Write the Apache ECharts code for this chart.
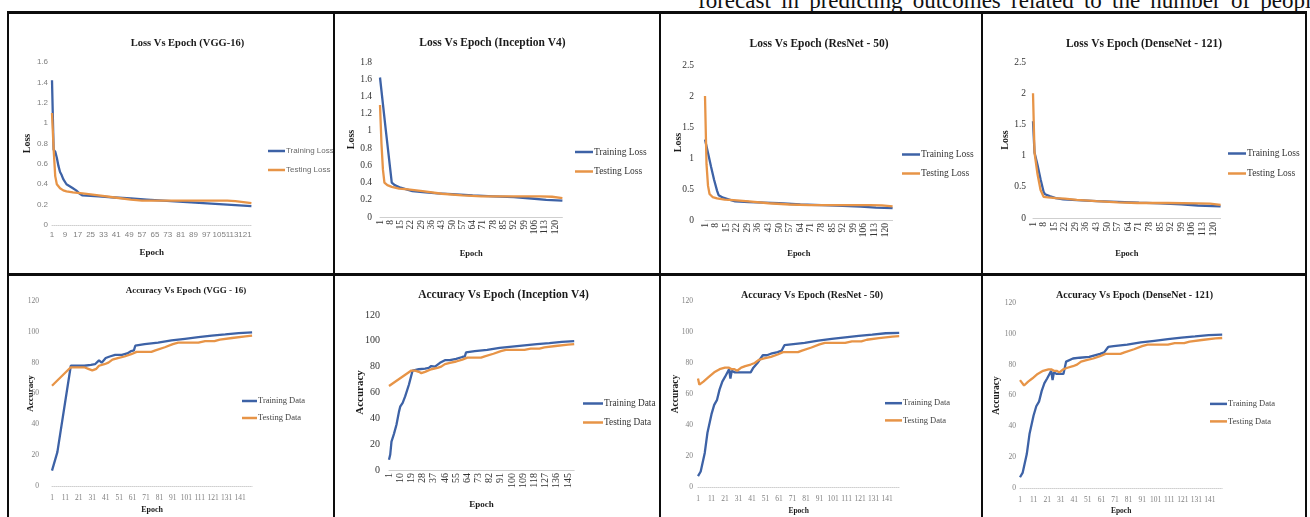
<!DOCTYPE html>
<html><head><meta charset="utf-8">
<script src="https://cdn.jsdelivr.net/npm/echarts@6/dist/echarts.min.js"></script>
<style>
html,body{margin:0;padding:0;background:#fff;width:1310px;height:517px;overflow:hidden;position:relative}
.b{position:absolute;background:#0d0d0d}
.cell{position:absolute}
#txt{position:absolute;left:698px;top:-11px;font-family:'Liberation Serif',serif;font-size:23px;line-height:23px;white-space:nowrap;color:#111;word-spacing:4.5px}
</style></head><body>
<div id="txt">forecast in predicting outcomes related to the number of peopl</div>
<div class="b" style="left:7px;top:11px;width:1300px;height:3px"></div>
<div class="b" style="left:7px;top:11px;width:2px;height:506px"></div>
<div class="b" style="left:333px;top:11px;width:2px;height:506px"></div>
<div class="b" style="left:659px;top:11px;width:2px;height:506px"></div>
<div class="b" style="left:981px;top:11px;width:2px;height:506px"></div>
<div class="b" style="left:1305px;top:11px;width:2px;height:506px"></div>
<div class="b" style="left:7px;top:273px;width:1300px;height:3px"></div>
<div class="cell" id="c1" style="left:9px;top:14px;width:324px;height:259px"></div>
<div class="cell" id="c2" style="left:335px;top:14px;width:324px;height:259px"></div>
<div class="cell" id="c3" style="left:661px;top:14px;width:320px;height:259px"></div>
<div class="cell" id="c4" style="left:983px;top:14px;width:322px;height:259px"></div>
<div class="cell" id="c5" style="left:9px;top:276px;width:324px;height:241px"></div>
<div class="cell" id="c6" style="left:335px;top:276px;width:324px;height:241px"></div>
<div class="cell" id="c7" style="left:661px;top:276px;width:320px;height:241px"></div>
<div class="cell" id="c8" style="left:983px;top:276px;width:322px;height:241px"></div>
<script>
// ---- data (epoch, value) ----
const LOSS_EPOCHS = 125;
const ACC_EPOCHS = 150;
const lossEpochs = Array.from({length: LOSS_EPOCHS}, (_, i) => String(i + 1));
const accEpochs = Array.from({length: ACC_EPOCHS}, (_, i) => String(i + 1));

const vggLossTrain = [[1,1.42],[2,0.74],[3,0.72],[4,0.66],[5,0.58],[6,0.52],[7,0.49],[8,0.45],[10,0.40],[12,0.38],[14,0.36],[16,0.34],[18,0.31],[20,0.29],[25,0.285],[30,0.28],[40,0.27],[50,0.26],[60,0.25],[70,0.24],[80,0.23],[90,0.22],[100,0.21],[110,0.20],[120,0.19],[125,0.185]];
const vggLossTest = [[1,1.10],[2,0.75],[3,0.48],[4,0.40],[5,0.38],[6,0.36],[8,0.34],[10,0.33],[14,0.32],[20,0.31],[25,0.30],[30,0.29],[40,0.27],[50,0.25],[57,0.24],[65,0.24],[80,0.24],[95,0.24],[110,0.24],[115,0.235],[120,0.225],[125,0.215]];

const incLossTrain = [[1,1.62],[5,1.00],[9,0.40],[11,0.37],[15,0.34],[19,0.32],[23,0.30],[30,0.29],[40,0.275],[50,0.265],[64,0.25],[78,0.24],[92,0.23],[104,0.215],[114,0.20],[125,0.19]];
const incLossTest = [[1,1.30],[2,0.85],[3,0.55],[4,0.40],[6,0.37],[9,0.35],[14,0.33],[20,0.32],[30,0.30],[43,0.27],[57,0.25],[70,0.24],[90,0.24],[110,0.24],[118,0.235],[125,0.22]];

const resLossTrain = [[1,1.30],[3,1.08],[5,0.86],[7,0.65],[9,0.47],[10,0.40],[13,0.36],[17,0.33],[21,0.30],[30,0.29],[40,0.28],[50,0.27],[64,0.25],[78,0.24],[92,0.23],[104,0.215],[114,0.20],[125,0.19]];
const resLossTest = [[1,2.00],[2,0.90],[3,0.55],[4,0.42],[6,0.37],[9,0.35],[14,0.33],[20,0.32],[30,0.30],[43,0.27],[57,0.25],[70,0.24],[90,0.24],[110,0.24],[118,0.235],[125,0.22]];

const denLossTrain = [[1,1.55],[2,1.05],[4,0.85],[6,0.62],[8,0.42],[9,0.38],[12,0.35],[16,0.32],[21,0.30],[30,0.285],[43,0.27],[57,0.26],[71,0.245],[85,0.235],[99,0.22],[110,0.20],[120,0.19],[125,0.185]];
const denLossTest = [[1,2.00],[2,1.05],[4,0.70],[6,0.45],[8,0.34],[11,0.33],[16,0.32],[22,0.31],[30,0.29],[43,0.27],[57,0.25],[70,0.24],[90,0.24],[110,0.235],[118,0.23],[125,0.21]];

const vggAccTrain = [[1,10],[2,11],[5,22],[15,78],[20,78],[25,78],[30,78.5],[33,79],[36,81.5],[38,80],[41,83],[44,84],[48,85],[53,85],[57,86],[60,87.5],[62,88],[63,91],[70,92],[80,93],[90,94.5],[100,95.5],[110,96.5],[120,97.5],[130,98.3],[140,99.2],[150,99.7]];
const vggAccTest = [[1,65],[15,77],[20,77],[25,77],[28,76],[31,75],[34,76],[36,78],[40,79],[43,80],[46,82],[50,83],[55,84],[60,85.5],[64,87],[75,87],[78,88],[85,90],[91,92],[95,93],[110,93],[115,94],[122,94],[126,95],[135,96],[145,97],[150,97.5]];

const incAccTrain = [[1,8],[2,12],[3,22],[5,28],[7,35],[9,45],[10,49],[12,52],[14,57],[17,66],[20,77],[25,78],[30,78.5],[33,79],[35,80.5],[38,80],[42,83],[46,85],[50,85],[55,86],[60,87.5],[62,88],[63,91],[70,92],[80,93],[90,94.5],[100,95.5],[110,96.5],[120,97.5],[130,98.3],[140,99.2],[150,99.7]];
const incAccTest = [[1,65],[19,77],[22,77],[25,76],[27,75],[30,76],[35,78],[40,79],[43,80],[46,82],[50,83],[55,84],[60,85.5],[64,87],[75,87],[78,88],[85,90],[91,92],[95,93],[110,93],[115,94],[122,94],[126,95],[135,96],[145,97],[150,97.5]];

const resAccTrain = [[1,7],[3,10],[6,22],[8,35],[11,47],[13,53],[15,56],[17,63],[19,68],[21,71],[22,72],[24,76],[25,70],[26,75],[28,74],[36,74],[40,74],[42,77],[45,80],[49,85],[52,85],[55,86],[60,87],[63,88],[65,91.5],[70,92],[80,93],[90,94.5],[100,95.5],[110,96.5],[120,97.5],[130,98.3],[140,99.2],[150,99.5]];
const resAccTest = [[1,70],[2,66],[5,68],[9,71],[13,74],[17,76],[21,77],[24,77],[26,76],[28,76],[30,75],[33,77],[36,78],[40,79],[43,80],[46,82],[50,83],[55,84],[60,85.5],[64,87],[75,87],[78,88],[85,90],[91,92],[95,93],[110,93],[115,94],[122,94],[126,95],[135,96],[145,97],[150,97.3]];

const denAccTrain = [[1,7],[3,10],[6,22],[8,35],[11,47],[13,53],[15,56],[17,63],[19,68],[21,71],[22,72],[24,76],[25,70],[26,75],[28,74],[33,74],[35,82],[40,84],[45,84.5],[52,85],[56,86],[60,87],[63,88],[66,91.5],[70,92],[80,93],[90,94.5],[100,95.5],[110,96.5],[120,97.5],[130,98.3],[140,99.2],[150,99.5]];
const denAccTest = [[1,70],[4,66.5],[7,69],[10,71],[14,74],[18,76],[22,77],[24,77],[26,76],[28,76],[30,75],[33,77],[36,78],[40,79],[43,80],[46,82],[50,83],[55,84],[60,85.5],[64,87],[75,87],[78,88],[85,90],[91,92],[95,93],[110,93],[115,94],[122,94],[126,95],[135,96],[145,97],[150,97.3]];

const lossNames = ['Training Loss', 'Testing Loss'];
const accNames = ['Training Data', 'Testing Data'];

// ---- styles / layout per panel ----
const SERIF = 'Liberation Serif';
const SANS = 'Liberation Sans';
const BLUE = '#3d62a6';
const ORANGE = '#e79447';

const panels = [
  {id:'c1', title:'Loss Vs Epoch (VGG-16)', tx:178.5, ty:29, tsize:10.5, cats:lossEpochs, train:vggLossTrain, test:vggLossTest, names:lossNames,
   yMax:1.6, yInt:0.2, yName:'Loss', grid:{left:43, top:48, width:199.4, height:163},
   tickFont:SANS, tickSize:8, tickColor:'#7f7f7f', yMargin:4, xMargin:6, xInterval:7, xRotate:0, axisType:'dotted',
   lg:{left:259, top:133, w:17, gap:11, font:SANS, size:8, color:'#6a6a6a'}, xNameGap:23, xNameSize:9, yNameGap:20, yNameSize:10},
  {id:'c2', title:'Loss Vs Epoch (Inception V4)', tx:157.5, ty:29, tsize:11.5, cats:lossEpochs, train:incLossTrain, test:incLossTest, names:lossNames,
   yMax:1.8, yInt:0.2, yName:'Loss', grid:{left:45, top:48, width:182.4, height:155},
   tickFont:SERIF, tickSize:9.5, tickColor:'#333', yMargin:8, xMargin:3, xInterval:6, xRotate:90, axisType:'solid',
   lg:{left:240, top:133, w:18, gap:9.5, font:SERIF, size:9.5, color:'#333'}, xNameGap:32, xNameSize:8.5, yNameGap:24, yNameSize:10},
  {id:'c3', title:'Loss Vs Epoch (ResNet - 50)', tx:158, ty:30, tsize:11.5, cats:lossEpochs, train:resLossTrain, test:resLossTest, names:lossNames,
   yMax:2.5, yInt:0.5, yName:'Loss', grid:{left:44, top:51, width:187.6, height:155},
   tickFont:SERIF, tickSize:9.5, tickColor:'#333', yMargin:11, xMargin:3, xInterval:6, xRotate:90, axisType:'solid',
   lg:{left:241, top:135.5, w:18, gap:9, font:SERIF, size:9.5, color:'#333'}, xNameGap:29, xNameSize:8.5, yNameGap:22, yNameSize:10},
  {id:'c4', title:'Loss Vs Epoch (DenseNet - 121)', tx:161, ty:30, tsize:11.5, cats:lossEpochs, train:denLossTrain, test:denLossTest, names:lossNames,
   yMax:2.5, yInt:0.5, yName:'Loss', grid:{left:50, top:48, width:187.6, height:156},
   tickFont:SERIF, tickSize:9.5, tickColor:'#333', yMargin:7, xMargin:4, xInterval:6, xRotate:90, axisType:'solid',
   lg:{left:245, top:134.5, w:18, gap:10, font:SERIF, size:9.5, color:'#333'}, xNameGap:31, xNameSize:8.5, yNameGap:23, yNameSize:10},
  {id:'c5', title:'Accuracy Vs Epoch (VGG - 16)', tx:177, ty:15, tsize:9, cats:accEpochs, train:vggAccTrain, test:vggAccTest, names:accNames,
   yMax:120, yInt:20, yName:'Accuracy', grid:{left:43, top:25, width:200.1, height:185},
   tickFont:SERIF, tickSize:7.5, tickColor:'#7f7f7f', yMargin:13, xMargin:8, xInterval:9, xRotate:0, axisType:'dotted',
   lg:{left:233, top:120.5, w:15, gap:8, font:SERIF, size:8.5, color:'#444'}, xNameGap:20, xNameSize:8, yNameGap:17, yNameSize:9},
  {id:'c6', title:'Accuracy Vs Epoch (Inception V4)', tx:168.5, ty:19, tsize:11.5, cats:accEpochs, train:incAccTrain, test:incAccTest, names:accNames,
   yMax:120, yInt:20, yName:'Accuracy', grid:{left:54, top:39, width:185.2, height:155},
   tickFont:SERIF, tickSize:10, tickColor:'#333', yMargin:9, xMargin:3, xInterval:8, xRotate:90, axisType:'solid',
   lg:{left:248, top:123, w:20, gap:10, font:SERIF, size:9.3, color:'#333'}, xNameGap:30, xNameSize:9, yNameGap:23, yNameSize:11},
  {id:'c7', title:'Accuracy Vs Epoch (ResNet - 50)', tx:151, ty:19.5, tsize:10, cats:accEpochs, train:resAccTrain, test:resAccTest, names:accNames,
   yMax:120, yInt:20, yName:'Accuracy', grid:{left:37, top:25, width:201.2, height:186},
   tickFont:SERIF, tickSize:7.5, tickColor:'#7f7f7f', yMargin:5, xMargin:8, xInterval:9, xRotate:0, axisType:'dotted',
   lg:{left:224, top:122.7, w:17, gap:8.2, font:SERIF, size:8.5, color:'#444'}, xNameGap:20, xNameSize:7.5, yNameGap:17, yNameSize:9.5},
  {id:'c8', title:'Accuracy Vs Epoch (DenseNet - 121)', tx:151.5, ty:19, tsize:10, cats:accEpochs, train:denAccTrain, test:denAccTest, names:accNames,
   yMax:120, yInt:20, yName:'Accuracy', grid:{left:37, top:27, width:202.2, height:185},
   tickFont:SERIF, tickSize:7.5, tickColor:'#7f7f7f', yMargin:4, xMargin:8, xInterval:9, xRotate:0, axisType:'dotted',
   lg:{left:227, top:123.4, w:17, gap:8.5, font:SERIF, size:8.5, color:'#444'}, xNameGap:19, xNameSize:7.5, yNameGap:18, yNameSize:9.5}
];

function toIdx(arr) { return arr.map(([e, v]) => [e - 1, v]); }

panels.forEach(p => {
  const chart = echarts.init(document.getElementById(p.id), null, {renderer: 'canvas'});
  const nameStyle = (size) => ({fontFamily: SERIF, fontWeight: 'bold', fontSize: size, color: '#1a1a1a'});
  chart.setOption({
    animation: false,
    graphic: [{
      type: 'text', x: p.tx, y: p.ty, silent: true,
      style: {text: p.title, fill: '#1a1a1a', fontFamily: SERIF, fontWeight: 'bold', fontSize: p.tsize, align: 'center', verticalAlign: 'middle'}
    }],
    grid: Object.assign({outerBoundsMode: 'none', containLabel: false}, p.grid),
    legend: {
      orient: 'vertical', left: p.lg.left, top: p.lg.top, itemWidth: p.lg.w, itemHeight: 2.5, itemGap: p.lg.gap,
      padding: 0, selectedMode: false, icon: 'rect',
      textStyle: {fontFamily: p.lg.font, fontSize: p.lg.size, color: p.lg.color, padding: [0, 0, 0, -4]},
      data: p.names
    },
    xAxis: {
      type: 'category', data: p.cats, boundaryGap: false,
      name: 'Epoch', nameLocation: 'middle', nameGap: p.xNameGap, nameMoveOverlap: false, nameTextStyle: nameStyle(p.xNameSize),
      axisLine: {show: true, lineStyle: {color: '#cfcfcf', width: 1, type: p.axisType}},
      axisTick: {show: false},
      axisLabel: {interval: p.xInterval, rotate: p.xRotate, margin: p.xMargin, fontFamily: p.tickFont, fontSize: p.tickSize, color: p.tickColor, hideOverlap: false},
      splitLine: {show: false}
    },
    yAxis: {
      type: 'value', min: 0, max: p.yMax, interval: p.yInt,
      name: p.yName, nameLocation: 'middle', nameGap: p.yNameGap, nameMoveOverlap: false, nameTextStyle: nameStyle(p.yNameSize),
      axisLine: {show: false}, axisTick: {show: false}, splitLine: {show: false},
      axisLabel: {margin: p.yMargin, fontFamily: p.tickFont, fontSize: p.tickSize, color: p.tickColor}
    },
    series: [
      {name: p.names[0], type: 'line', data: toIdx(p.train), symbol: 'none', color: BLUE, lineStyle: {width: 2.3, color: BLUE}},
      {name: p.names[1], type: 'line', data: toIdx(p.test), symbol: 'none', color: ORANGE, lineStyle: {width: 2.3, color: ORANGE}}
    ]
  });
});
</script>
</body></html>
